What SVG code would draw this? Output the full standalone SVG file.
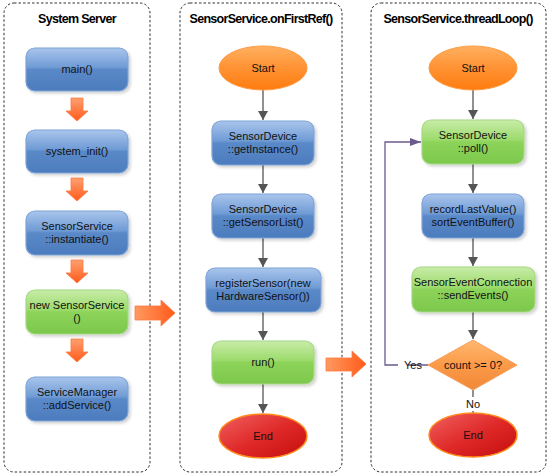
<svg xmlns="http://www.w3.org/2000/svg" width="554" height="476" viewBox="0 0 554 476">
<style>
.panel{fill:#fff;stroke:#333;stroke-width:1;stroke-dasharray:2.5,2}
.title{font-family:"Liberation Sans",Arial,sans-serif;font-weight:bold;font-size:12.5px;text-anchor:middle;letter-spacing:-0.7px}
.t{font-family:"Liberation Sans",Arial,sans-serif;font-size:11px;text-anchor:middle;fill:#111}
.blue{fill:url(#gBlue);stroke:#7fa3d6;stroke-width:1.2;filter:url(#sh)}
.green{fill:url(#gGreen);stroke:#a6d884;stroke-width:1.2;filter:url(#sh)}
.orange{fill:url(#gOrange);stroke:#ff9a40;stroke-width:1}
.red{fill:url(#gRed);stroke:#ff8a1a;stroke-width:1.5}
.conn{stroke:#555;stroke-width:1.3;fill:none}
.loop{stroke:#6b5b8e;stroke-width:1.3;fill:none}
.bigarrow{fill:url(#gArrow);stroke:#ff7a40;stroke-width:0.8}
</style>
<defs>
<filter id="sh" x="-10%" y="-10%" width="125%" height="130%">
<feDropShadow dx="2" dy="2" stdDeviation="1.5" flood-color="#000" flood-opacity="0.18"/>
</filter>
<linearGradient id="gBlue" x1="0" y1="0" x2="0" y2="1">
<stop offset="0" stop-color="#a9c5ec"/>
<stop offset="0.45" stop-color="#6f9bd5"/>
<stop offset="0.5" stop-color="#5a89c8"/>
<stop offset="1" stop-color="#4c7cbd"/>
</linearGradient>
<linearGradient id="gGreen" x1="0" y1="0" x2="0" y2="1">
<stop offset="0" stop-color="#c8eca8"/>
<stop offset="0.45" stop-color="#9cdb6c"/>
<stop offset="0.5" stop-color="#8dd35a"/>
<stop offset="1" stop-color="#7cc84c"/>
</linearGradient>
<linearGradient id="gOrange" x1="0" y1="0" x2="0" y2="1">
<stop offset="0" stop-color="#ffb060"/>
<stop offset="0.5" stop-color="#ff9233"/>
<stop offset="1" stop-color="#ff7c10"/>
</linearGradient>
<linearGradient id="gDia" x1="0" y1="0" x2="0" y2="1">
<stop offset="0" stop-color="#ffb870"/>
<stop offset="0.5" stop-color="#fb9a48"/>
<stop offset="1" stop-color="#f08838"/>
</linearGradient>
<linearGradient id="gRed" x1="0" y1="0" x2="1" y2="1">
<stop offset="0" stop-color="#f06060"/>
<stop offset="0.5" stop-color="#e02a2a"/>
<stop offset="1" stop-color="#c40e0e"/>
</linearGradient>
<linearGradient id="gArrow" x1="0" y1="0" x2="0" y2="1">
<stop offset="0" stop-color="#ffa070"/>
<stop offset="1" stop-color="#ff5a1a"/>
</linearGradient>
<linearGradient id="gArrowH" x1="0" y1="0" x2="1" y2="0">
<stop offset="0" stop-color="#ff9a60"/>
<stop offset="1" stop-color="#ff5a1a"/>
</linearGradient>
<marker id="ah" markerWidth="10" markerHeight="10" refX="9" refY="5" orient="auto" markerUnits="userSpaceOnUse">
<path d="M0,0 L9,5 L0,10 z" fill="#555"/>
</marker>
<marker id="ahp" markerWidth="12" markerHeight="10" refX="11" refY="5" orient="auto" markerUnits="userSpaceOnUse">
<path d="M0,1 L11,5 L0,9 z" fill="#6b5b8e"/>
</marker>
</defs>

<rect class="panel" x="4" y="3" width="146" height="469" rx="10"/>
<rect class="panel" x="180" y="3" width="162" height="469" rx="10"/>
<rect class="panel" x="371" y="3" width="175" height="469" rx="10"/>
<text class="title" x="77" y="23">System Server</text>
<text class="title" x="261" y="23">SensorService.onFirstRef()</text>
<text class="title" x="458" y="23">SensorService.threadLoop()</text>

<g id="connectors">
<path class="bigarrow" d="M71,98 H83 V111 H88 L77,121 L66,111 H71 Z"/>
<path class="bigarrow" d="M71,178 H83 V191 H88 L77,201 L66,191 H71 Z"/>
<path class="bigarrow" d="M71,260 H83 V273 H88 L77,283 L66,273 H71 Z"/>
<path class="bigarrow" d="M71,339 H83 V352 H88 L77,362 L66,352 H71 Z"/>
<path class="bigarrow" style="fill:url(#gArrowH)" d="M135,306 H161 V300 L175,313 L161,326 V320 H135 Z"/>
<path class="bigarrow" style="fill:url(#gArrowH)" d="M326,358 H352 V351 L366,364 L352,377 V371 H326 Z"/>
<line class="conn" x1="263" y1="90" x2="263" y2="120" marker-end="url(#ah)"/>
<line class="conn" x1="263" y1="165" x2="263" y2="193" marker-end="url(#ah)"/>
<line class="conn" x1="263" y1="238" x2="263" y2="267" marker-end="url(#ah)"/>
<line class="conn" x1="263" y1="312" x2="263" y2="340" marker-end="url(#ah)"/>
<line class="conn" x1="263" y1="384" x2="263" y2="413" marker-end="url(#ah)"/>
<line class="conn" x1="473" y1="90" x2="473" y2="119" marker-end="url(#ah)"/>
<line class="conn" x1="473" y1="164" x2="473" y2="193" marker-end="url(#ah)"/>
<line class="conn" x1="473" y1="238" x2="473" y2="266" marker-end="url(#ah)"/>
<line class="conn" x1="473" y1="312" x2="473" y2="339" marker-end="url(#ah)"/>
<line class="conn" x1="473" y1="390" x2="473" y2="397"/>
<line class="conn" x1="473" y1="411" x2="473" y2="414"/>
<path class="loop" d="M428,365 H408 M398,365 H385 V142 H421" marker-end="url(#ahp)"/>
<text class="t" x="413" y="369">Yes</text>
<text class="t" x="473" y="408">No</text>
</g>

<g id="main"><rect class="blue" x="26" y="48" width="102" height="43" rx="9"/><text class="t" x="77" y="73">main()</text></g>
<g id="system_init"><rect class="blue" x="26" y="130" width="102" height="43" rx="9"/><text class="t" x="77" y="155">system_init()</text></g>
<g id="instantiate"><rect class="blue" x="26" y="211" width="102" height="44" rx="9"/><text class="t" x="77" y="230">SensorService</text><text class="t" x="77" y="243">::instantiate()</text></g>
<g id="newSensorService"><rect class="green" x="26" y="290" width="102" height="44" rx="9"/><text class="t" x="77" y="309">new SensorService</text><text class="t" x="77" y="322">()</text></g>
<g id="addService"><rect class="blue" x="26" y="377" width="102" height="44" rx="9"/><text class="t" x="77" y="396">ServiceManager</text><text class="t" x="77" y="409">::addService()</text></g>

<g id="start1"><ellipse class="orange" cx="263" cy="68" rx="44" ry="22"/><text class="t" x="263" y="72">Start</text></g>
<g id="getInstance"><rect class="blue" x="212" y="121" width="102" height="44" rx="9"/><text class="t" x="263" y="140">SensorDevice</text><text class="t" x="263" y="153">::getInstance()</text></g>
<g id="getSensorList"><rect class="blue" x="212" y="194" width="102" height="44" rx="9"/><text class="t" x="263" y="213">SensorDevice</text><text class="t" x="263" y="226">::getSensorList()</text></g>
<g id="registerSensor"><rect class="blue" x="206" y="268" width="115" height="44" rx="9"/><text class="t" x="263" y="287">registerSensor(new</text><text class="t" x="263" y="300">HardwareSensor())</text></g>
<g id="run"><rect class="green" x="212" y="341" width="102" height="43" rx="9"/><text class="t" x="263" y="366">run()</text></g>
<g id="end1"><ellipse class="red" cx="263" cy="436" rx="44" ry="22"/><text class="t" x="263" y="440">End</text></g>

<g id="start2"><ellipse class="orange" cx="473" cy="68" rx="44" ry="22"/><text class="t" x="473" y="72">Start</text></g>
<g id="poll"><rect class="green" x="422" y="120" width="102" height="44" rx="9"/><text class="t" x="473" y="139">SensorDevice</text><text class="t" x="473" y="152">::poll()</text></g>
<g id="recordLastValue"><rect class="blue" x="422" y="194" width="102" height="44" rx="9"/><text class="t" x="473" y="213">recordLastValue()</text><text class="t" x="473" y="226">sortEventBuffer()</text></g>
<g id="sendEvents"><rect class="green" x="412" y="267" width="123" height="45" rx="9"/><text class="t" x="473" y="286">SensorEventConnection</text><text class="t" x="473" y="299">::sendEvents()</text></g>
<g id="decision"><path d="M473,340 L517,365 L473,390 L428,365 Z" fill="url(#gDia)" stroke="#f6a060" stroke-width="1"/><text class="t" x="473" y="369">count &gt;= 0?</text></g>
<g id="end2"><ellipse class="red" cx="473" cy="435" rx="44" ry="22"/><text class="t" x="473" y="439">End</text></g>
</svg>
